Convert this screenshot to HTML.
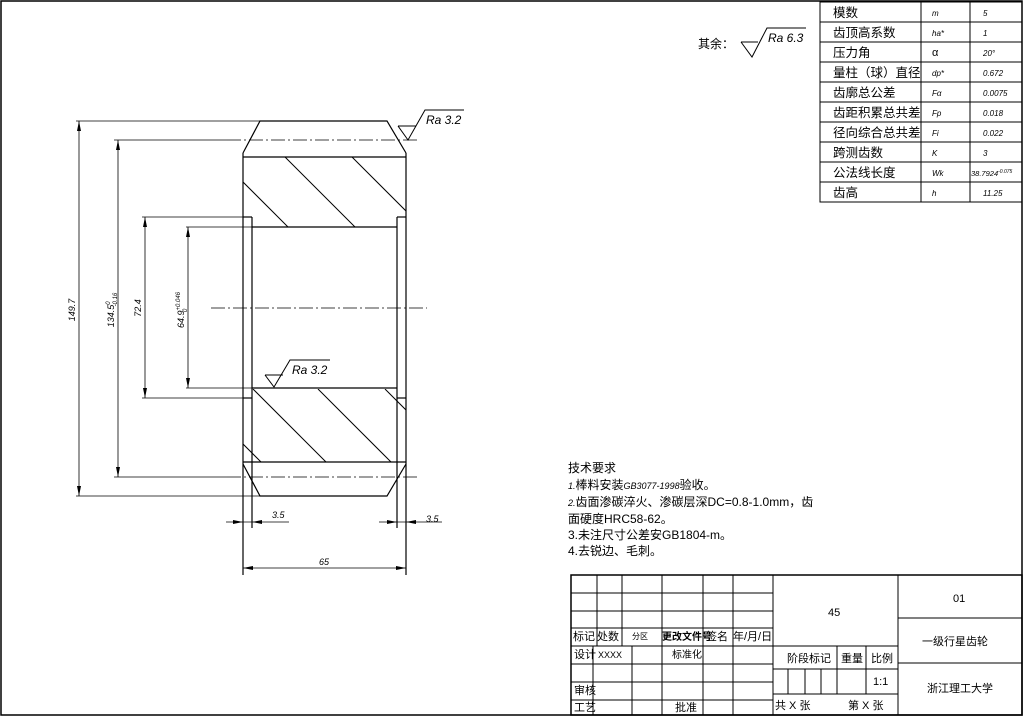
<!DOCTYPE html>
<html><head><meta charset="utf-8"><style>
html,body{margin:0;padding:0;background:#fff;}
svg{display:block;}
text{font-family:"Liberation Sans","Noto Sans CJK SC",sans-serif;fill:#000;}
.i{font-style:italic;}
</style></head><body>
<svg width="1024" height="717" viewBox="0 0 1024 717" xmlns="http://www.w3.org/2000/svg">
<rect x="1" y="1" width="1021" height="714" fill="none" stroke="#000" stroke-width="1.5"/>
<defs>
<clipPath id="ct"><rect x="243" y="157" width="163" height="70"/></clipPath>
<clipPath id="cb"><rect x="243" y="389" width="163" height="73"/></clipPath>
</defs>
<g stroke="#000" stroke-width="1.2" fill="none">
<polyline points="243,153 260,121 387,121 406,153"/>
<line x1="243" y1="157" x2="406" y2="157"/>
<line x1="243" y1="153" x2="243" y2="575"/>
<line x1="406" y1="153" x2="406" y2="575"/>
<line x1="252" y1="217" x2="252" y2="528"/>
<line x1="397" y1="217" x2="397" y2="528"/>
<line x1="243" y1="217" x2="252" y2="217"/>
<line x1="397" y1="217" x2="406" y2="217"/>
<line x1="243" y1="398" x2="252" y2="398"/>
<line x1="397" y1="398" x2="406" y2="398"/>
<line x1="252" y1="227" x2="397" y2="227"/>
<line x1="252" y1="388" x2="397" y2="388"/>
<line x1="243" y1="462" x2="406" y2="462"/>
<polyline points="243,464 260,496 387,496 406,464"/>
<g clip-path="url(#ct)" stroke-width="1">
<line x1="218" y1="157" x2="288" y2="227"/>
<line x1="285" y1="157" x2="355" y2="227"/>
<line x1="352" y1="157" x2="422" y2="227"/>
</g>
<g clip-path="url(#cb)" stroke-width="1">
<line x1="188" y1="389" x2="261" y2="462"/>
<line x1="253" y1="389" x2="326" y2="462"/>
<line x1="318" y1="389" x2="391" y2="462"/>
<line x1="385" y1="389" x2="458" y2="462"/>
</g>
<g stroke-width="0.8" stroke-dasharray="14,3,2,3">
<line x1="227" y1="140" x2="417" y2="140"/>
<line x1="227" y1="477" x2="417" y2="477"/>
<line x1="211" y1="308" x2="427" y2="308"/>
</g>
<g stroke-width="0.8">
<line x1="76" y1="121" x2="260" y2="121"/>
<line x1="76" y1="496" x2="260" y2="496"/>
<line x1="114" y1="140" x2="227" y2="140"/>
<line x1="114" y1="477" x2="227" y2="477"/>
<line x1="142" y1="217" x2="243" y2="217"/>
<line x1="142" y1="398" x2="243" y2="398"/>
<line x1="186" y1="227" x2="252" y2="227"/>
<line x1="186" y1="388" x2="252" y2="388"/>
<line x1="79" y1="121" x2="79" y2="496"/>
<line x1="118" y1="140" x2="118" y2="477"/>
<line x1="145" y1="217" x2="145" y2="398"/>
<line x1="188" y1="227" x2="188" y2="388"/>
<line x1="226" y1="522" x2="289" y2="522"/>
<line x1="379" y1="522" x2="442" y2="522"/>
<line x1="243" y1="568" x2="406" y2="568"/>
</g>
</g>
<g fill="#000">
<polygon points="79,121 77,131 81,131"/><polygon points="79,496 77,486 81,486"/>
<polygon points="118,140 116,150 120,150"/><polygon points="118,477 116,467 120,467"/>
<polygon points="145,217 143,227 147,227"/><polygon points="145,398 143,388 147,388"/>
<polygon points="188,227 186,237 190,237"/><polygon points="188,388 186,378 190,378"/>
<polygon points="243,522 233,520 233,524"/><polygon points="252,522 262,520 262,524"/>
<polygon points="397,522 387,520 387,524"/><polygon points="406,522 416,520 416,524"/>
<polygon points="243,568 253,566 253,570"/><polygon points="406,568 396,566 396,570"/>
</g>
<g font-size="9">
<text class="i" transform="translate(75,310) rotate(-90)" text-anchor="middle">149.7</text>
<text class="i" transform="translate(114,310) rotate(-90)" text-anchor="middle">134.5<tspan font-size="6" dy="-4">0</tspan><tspan font-size="6" dy="7" dx="-5">-0.16</tspan></text>
<text class="i" transform="translate(141,308) rotate(-90)" text-anchor="middle">72.4</text>
<text class="i" transform="translate(184,310) rotate(-90)" text-anchor="middle">64.9<tspan font-size="6" dy="-4">+0.046</tspan><tspan font-size="6" dy="7" dx="-20">0</tspan></text>
<text class="i" x="272" y="518">3.5</text>
<text class="i" x="426" y="522">3.5</text>
<text class="i" x="319" y="565">65</text>
</g>
<g stroke="#000" stroke-width="1" fill="none">
<path d="M398,126 L416,126 M398,126 L408,140 L425,110 L464,110"/>
<path d="M265,375 L283,375 M265,375 L274,387 L290,360 L330,360"/>
<path d="M741,42 L758,42 M741,42 L752,57 L767,28 L806,28"/>
</g>
<text class="i" x="426" y="124" font-size="12">Ra 3.2</text>
<text class="i" x="292" y="374" font-size="12">Ra 3.2</text>
<text class="i" x="768" y="42" font-size="12">Ra 6.3</text>
<text x="698" y="48" font-size="12">其余：</text>
<g stroke="#000" stroke-width="1" fill="none">
<rect x="820" y="2" width="202" height="200"/>
<line x1="921" y1="2" x2="921" y2="202"/><line x1="970" y1="2" x2="970" y2="202"/>
<line x1="820" y1="22" x2="1022" y2="22"/><line x1="820" y1="42" x2="1022" y2="42"/>
<line x1="820" y1="62" x2="1022" y2="62"/><line x1="820" y1="82" x2="1022" y2="82"/>
<line x1="820" y1="102" x2="1022" y2="102"/><line x1="820" y1="122" x2="1022" y2="122"/>
<line x1="820" y1="142" x2="1022" y2="142"/><line x1="820" y1="162" x2="1022" y2="162"/>
<line x1="820" y1="182" x2="1022" y2="182"/>
</g>
<g font-size="12.5">
<text x="833" y="17">模数</text><text x="833" y="37">齿顶高系数</text><text x="833" y="57">压力角</text>
<text x="833" y="77">量柱（球）直径</text><text x="833" y="97">齿廓总公差</text><text x="833" y="117">齿距积累总共差</text>
<text x="833" y="137">径向综合总共差</text><text x="833" y="157">跨测齿数</text><text x="833" y="177">公法线长度</text>
<text x="833" y="197">齿高</text>
</g>
<g font-size="8">
<text class="i" x="932" y="16">m</text><text class="i" x="932" y="36">ha*</text><text x="932" y="56" font-size="11">α</text>
<text class="i" x="932" y="76">dp*</text><text class="i" x="932" y="96">Fα</text><text class="i" x="932" y="116">Fp</text>
<text class="i" x="932" y="136">Fi</text><text class="i" x="932" y="156">K</text><text class="i" x="932" y="176">Wk</text>
<text class="i" x="932" y="196">h</text>
<text class="i" x="983" y="16">5</text><text class="i" x="983" y="36">1</text><text class="i" x="983" y="56">20°</text>
<text class="i" x="983" y="76">0.672</text><text class="i" x="983" y="96">0.0075</text><text class="i" x="983" y="116">0.018</text>
<text class="i" x="983" y="136">0.022</text><text class="i" x="983" y="156">3</text><text class="i" x="971" y="176" font-size="7.5">38.7924<tspan font-size="5" dy="-3">-0.075</tspan></text>
<text class="i" x="983" y="196">11.25</text>
</g>
<g font-size="12">
<text x="568" y="472">技术要求</text>
<text x="568" y="489"><tspan font-size="9" class="i">1.</tspan>棒料安装<tspan font-size="9" class="i">GB3077-1998</tspan>验收。</text>
<text x="568" y="506"><tspan font-size="9" class="i">2.</tspan>齿面渗碳淬火、渗碳层深DC=0.8-1.0mm，齿</text>
<text x="568" y="523">面硬度HRC58-62。</text>
<text x="568" y="539">3.未注尺寸公差安GB1804-m。</text>
<text x="568" y="555">4.去锐边、毛刺。</text>
</g>
<g stroke="#000" stroke-width="1" fill="none">
<rect x="571" y="575" width="451" height="140" stroke-width="1.5"/>
<line x1="773" y1="575" x2="773" y2="715"/><line x1="898" y1="575" x2="898" y2="715"/>
<line x1="571" y1="593" x2="773" y2="593"/><line x1="571" y1="611" x2="773" y2="611"/>
<line x1="571" y1="628" x2="773" y2="628"/><line x1="571" y1="646" x2="898" y2="646"/>
<line x1="571" y1="664" x2="773" y2="664"/><line x1="571" y1="682" x2="773" y2="682"/>
<line x1="571" y1="700" x2="773" y2="700"/>
<line x1="597" y1="575" x2="597" y2="646"/><line x1="622" y1="575" x2="622" y2="646"/>
<line x1="662" y1="575" x2="662" y2="715"/><line x1="703" y1="575" x2="703" y2="715"/>
<line x1="733" y1="575" x2="733" y2="715"/>
<line x1="593" y1="646" x2="593" y2="715"/><line x1="632" y1="646" x2="632" y2="715"/>
<line x1="773" y1="669" x2="898" y2="669"/><line x1="773" y1="694" x2="898" y2="694"/>
<line x1="837" y1="646" x2="837" y2="694"/><line x1="866" y1="646" x2="866" y2="694"/>
<line x1="788" y1="669" x2="788" y2="694"/><line x1="805" y1="669" x2="805" y2="694"/>
<line x1="821" y1="669" x2="821" y2="694"/>
<line x1="898" y1="618" x2="1022" y2="618"/><line x1="898" y1="663" x2="1022" y2="663"/>
</g>
<g font-size="11" font-family="Liberation Serif,Noto Serif CJK SC,serif">
<text x="573" y="640">标记</text><text x="597" y="640">处数</text><text x="632" y="639" font-size="8">分区</text>
<text x="662" y="640" font-size="10" font-weight="bold">更改文件号</text><text x="706" y="640">签名</text><text x="733" y="640">年/月/日</text>
<text x="574" y="658">设计</text><text x="598" y="658" font-size="9">XXXX</text><text x="672" y="658" font-size="10">标准化</text>
<text x="574" y="694">审核</text><text x="574" y="711">工艺</text><text x="675" y="711">批准</text>
<text x="828" y="616">45</text>
<text x="787" y="662">阶段标记</text><text x="841" y="662">重量</text><text x="871" y="662">比例</text>
<text x="873" y="685">1:1</text>
<text x="775" y="709">共 X 张</text><text x="848" y="709">第 X 张</text>
<text x="953" y="602">01</text>
<text x="922" y="645">一级行星齿轮</text>
<text x="927" y="692">浙江理工大学</text>
</g>
</svg>
</body></html>
